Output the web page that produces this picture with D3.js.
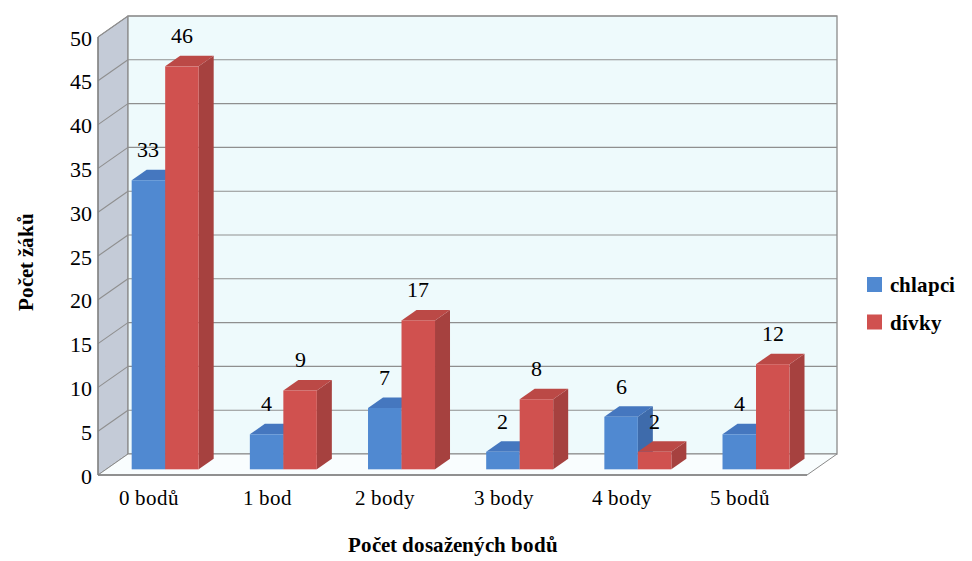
<!DOCTYPE html>
<html>
<head>
<meta charset="utf-8">
<script src="https://cdn.jsdelivr.net/npm/d3@7"></script>
<style>
  @font-face { font-family: "ChartSerif"; src: local("Liberation Serif"), local("LiberationSerif"), local("Liberation Serif Regular"); font-weight: normal; }
  @font-face { font-family: "ChartSerif"; src: local("Liberation Serif Bold"), local("LiberationSerif-Bold"); font-weight: bold; }
</style>
</head>
<body style="margin:0">
<svg id="chart" width="972" height="561"></svg>
<script>
// Point distribution by gender
const categories = ["0 bodů", "1 bod", "2 body", "3 body", "4 body", "5 bodů"];
const seriesNames = ["chlapci", "dívky"];
const chlapci = [33, 4, 7, 2, 6, 4];
const divky = [46, 9, 17, 8, 2, 12];
const yTicks = [0, 5, 10, 15, 20, 25, 30, 35, 40, 45, 50];

const seriesValues = [chlapci, divky];
const palette = [
  { front: "#5089d1", top: "#4577bf", side: "#3e6bab" },
  { front: "#d0514f", top: "#bb4946", side: "#a6413f" }
];

const svg = d3.select("#chart");

// Front plane of the plot box and its depth vector
const left = 98, right = 807, base = 475, topY = 37;
const depth = { dx: 30, dy: -21 };
const barNear = 0.27, barFar = 0.77;

const y = d3.scaleLinear().domain([0, 50]).range([base, topY]);
const x0 = d3.scaleBand().domain(categories).range([left, right])
  .paddingInner(0.433).paddingOuter(0.2165);
const x1 = d3.scaleBand().domain(seriesNames).range([0, x0.bandwidth()]);

const pts = a => a.map(p => p.join(",")).join(" ");

// Adds one serif text element straight onto the svg
function addText(x, yPos, str, size, opts = {}) {
  const t = svg.append("text")
    .attr("x", x).attr("y", yPos)
    .attr("font-size", size)
    .attr("font-weight", opts.bold ? "bold" : "normal")
    .style("font-family", '"ChartSerif", "Liberation Serif"')
    .attr("text-anchor", opts.anchor || "start")
    .text(str);
  if (opts.transform) t.attr("transform", opts.transform);
  return t;
}

// Side wall
svg.append("polygon")
  .attr("points", pts([[left, y(0)], [left, y(50)], [left + depth.dx, y(50) + depth.dy], [left + depth.dx, y(0) + depth.dy]]))
  .attr("fill", "#c4cbd7").attr("stroke", "#8a8a8a").attr("stroke-width", 1);

// Back wall
svg.append("rect")
  .attr("x", left + depth.dx).attr("y", y(50) + depth.dy)
  .attr("width", right - left).attr("height", y(0) - y(50))
  .attr("fill", "#eefafc").attr("stroke", "#8a8a8a").attr("stroke-width", 1.3);

// Floor
svg.append("polygon")
  .attr("points", pts([[left, y(0)], [right, y(0)], [right + depth.dx, y(0) + depth.dy], [left + depth.dx, y(0) + depth.dy]]))
  .attr("fill", "#f9fdfe").attr("stroke", "#8a8a8a").attr("stroke-width", 1);

// Gridlines on the back and side walls
yTicks.filter(v => v > 0).forEach(v => {
  svg.append("line")
    .attr("x1", left).attr("y1", y(v))
    .attr("x2", left + depth.dx).attr("y2", y(v) + depth.dy)
    .attr("stroke", "#8f8f8f").attr("stroke-width", 1.1);
  svg.append("line")
    .attr("x1", left + depth.dx).attr("y1", y(v) + depth.dy)
    .attr("x2", right + depth.dx).attr("y2", y(v) + depth.dy)
    .attr("stroke", "#8f8f8f").attr("stroke-width", 1.1);
});

// Front axis lines
svg.append("line")
  .attr("x1", left).attr("y1", y(50)).attr("x2", left).attr("y2", y(0))
  .attr("stroke", "#7f7f7f").attr("stroke-width", 1.3);
svg.append("line")
  .attr("x1", left).attr("y1", y(0)).attr("x2", right).attr("y2", y(0))
  .attr("stroke", "#7f7f7f").attr("stroke-width", 1.3);

// Y tick labels
yTicks.forEach(v => addText(left - 6, y(v) + 8.5, v, 22, { anchor: "end" }));

// Bars with their value labels
const nx = depth.dx * barNear, ny = depth.dy * barNear;
const fx = depth.dx * barFar, fy = depth.dy * barFar;
categories.forEach((cat, ci) => {
  seriesNames.forEach((s, si) => {
    const v = seriesValues[si][ci];
    const c = palette[si];
    const xa = x0(cat) + x1(s) + nx;
    const xb = xa + x1.bandwidth();
    const yb = y(0) + ny;
    const yt = y(v) + ny;
    const sdx = fx - nx, sdy = fy - ny;
    svg.append("polygon").attr("fill", c.side)
      .attr("points", pts([[xb, yb], [xb, yt], [xb + sdx, yt + sdy], [xb + sdx, yb + sdy]]));
    svg.append("polygon").attr("fill", c.top)
      .attr("points", pts([[xa, yt], [xb, yt], [xb + sdx, yt + sdy], [xa + sdx, yt + sdy]]));
    svg.append("rect").attr("fill", c.front)
      .attr("x", xa).attr("y", yt).attr("width", xb - xa).attr("height", yb - yt);
    addText((xa + xb) / 2, yt - 23, v, 22, { anchor: "middle" });
  });
});

// Category labels
categories.forEach(cat => addText(x0(cat) + x0.bandwidth() / 2 - 8, 505, cat, 21, { anchor: "middle" }));

// Axis titles
addText((left + right) / 2, 552, "Počet dosažených bodů", 21, { anchor: "middle", bold: true });
addText(0, 0, "Počet žáků", 21, { anchor: "middle", bold: true, transform: "translate(33, 262) rotate(-90)" });

// Legend
seriesNames.forEach((s, i) => {
  const ly = 277 + i * 37.5;
  svg.append("rect").attr("x", 867).attr("y", ly).attr("width", 15).attr("height", 15)
    .attr("fill", palette[i].front);
  addText(890, ly + 15, s, 21, { bold: true });
});
</script>
</body>
</html>
